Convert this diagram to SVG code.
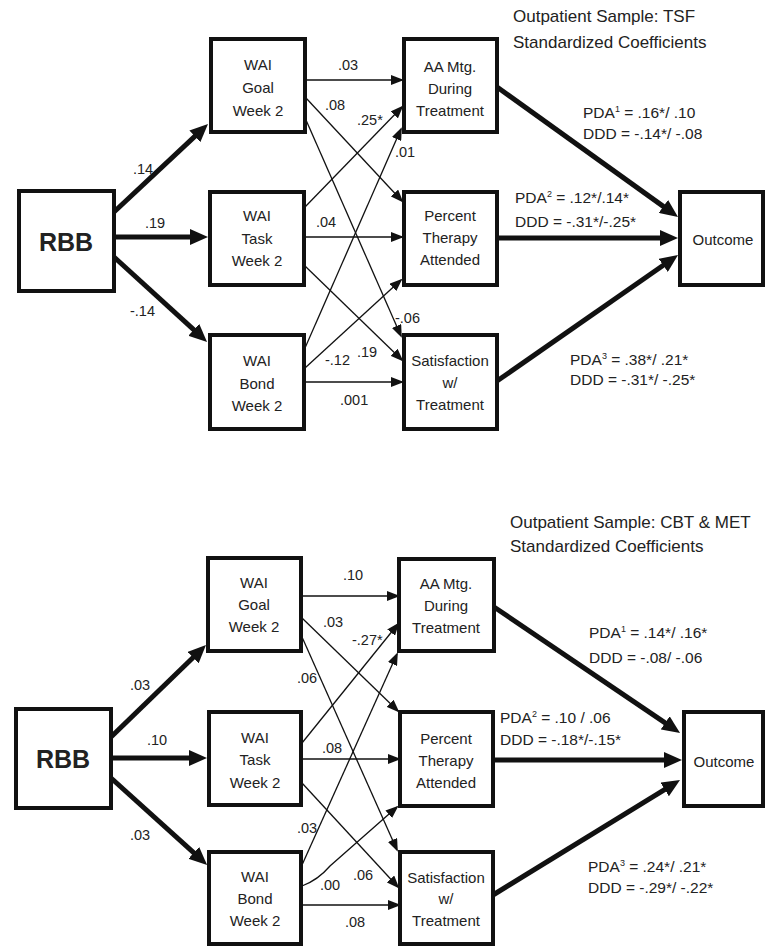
<svg xmlns="http://www.w3.org/2000/svg" width="765" height="947" viewBox="0 0 765 947">
<style>
.box{fill:#fff;stroke:#111;stroke-width:4}
.t{font-family:"Liberation Sans",Arial,sans-serif;fill:#222;}
.node{font-size:15px;text-anchor:middle}
.rbb{font-size:25px;font-weight:bold;text-anchor:middle}
.lab{font-size:14.5px}
.pda{font-size:15.5px}
.title{font-size:17px}
.thin{stroke:#111;stroke-width:1.3;fill:none;marker-end:url(#ah)}
.thick{stroke:#111;stroke-width:5;fill:none;marker-end:url(#ahb)}
</style>
<defs>
<marker id="ah" markerUnits="userSpaceOnUse" markerWidth="13" markerHeight="10" refX="11" refY="5" orient="auto"><path d="M0,0 L13,5 L0,10 z" fill="#111"/></marker>
<marker id="ahb" markerUnits="userSpaceOnUse" markerWidth="20" markerHeight="16" refX="8" refY="8" orient="auto"><path d="M0,0 L18,8 L0,16 z" fill="#111"/></marker>
</defs>
<rect width="765" height="947" fill="#fff"/>

<!-- ===== TOP PANEL ===== -->
<g id="connectors-top">
<line class="thick" x1="114" y1="212" x2="200.7" y2="130.9"/>
<line class="thick" x1="114" y1="237" x2="198" y2="237"/>
<line class="thick" x1="114" y1="257" x2="199.7" y2="335.2"/>
<line class="thick" x1="497" y1="87" x2="669.9" y2="211.1"/>
<line class="thick" x1="497" y1="238" x2="668" y2="238"/>
<line class="thick" x1="497" y1="381" x2="669.8" y2="260.8"/>
<line class="thin" x1="306" y1="80" x2="402" y2="80"/>
<line class="thin" x1="306" y1="98" x2="402" y2="201"/>
<line class="thin" x1="306" y1="120" x2="401" y2="336"/>
<line class="thin" x1="305" y1="207" x2="402" y2="107"/>
<line class="thin" x1="305" y1="237" x2="402" y2="237"/>
<line class="thin" x1="305" y1="266" x2="402" y2="360"/>
<line class="thin" x1="305" y1="348" x2="401" y2="129"/>
<line class="thin" x1="305" y1="368" x2="401" y2="280"/>
<line class="thin" x1="305" y1="382" x2="402" y2="382"/>
</g>

<g id="rbb-top"><rect class="box" x="19" y="191" width="95" height="100"/><text class="t rbb" x="66" y="251">RBB</text></g>
<g id="goal-top"><rect class="box" x="211" y="39" width="94" height="93"/><text class="t node" x="258" y="70">WAI</text><text class="t node" x="258" y="93">Goal</text><text class="t node" x="258" y="116">Week 2</text></g>
<g id="task-top"><rect class="box" x="210" y="192" width="94" height="93"/><text class="t node" x="257" y="221">WAI</text><text class="t node" x="257" y="244">Task</text><text class="t node" x="257" y="266">Week 2</text></g>
<g id="bond-top"><rect class="box" x="210" y="335" width="94" height="94"/><text class="t node" x="257" y="366">WAI</text><text class="t node" x="257" y="389">Bond</text><text class="t node" x="257" y="411">Week 2</text></g>
<g id="aa-top"><rect class="box" x="404" y="39" width="93" height="93"/><text class="t node" x="450" y="72">AA Mtg.</text><text class="t node" x="450" y="94">During</text><text class="t node" x="450" y="116">Treatment</text></g>
<g id="pct-top"><rect class="box" x="404" y="192" width="93" height="93"/><text class="t node" x="450" y="221">Percent</text><text class="t node" x="450" y="243">Therapy</text><text class="t node" x="450" y="265">Attended</text></g>
<g id="sat-top"><rect class="box" x="404" y="335" width="93" height="94"/><text class="t node" x="450" y="366">Satisfaction</text><text class="t node" x="450" y="388">w/</text><text class="t node" x="450" y="410">Treatment</text></g>
<g id="outcome-top"><rect class="box" x="680" y="192" width="83" height="93"/><text class="t node" x="723" y="245">Outcome</text></g>

<g id="labels-top">
<text class="t title" x="513" y="22">Outpatient Sample: TSF</text>
<text class="t title" x="513" y="48">Standardized Coefficients</text>
<text class="t lab" x="133" y="174">.14</text>
<text class="t lab" x="145" y="228">.19</text>
<text class="t lab" x="130" y="316">-.14</text>
<text class="t lab" x="338" y="70">.03</text>
<text class="t lab" x="325" y="110">.08</text>
<text class="t lab" x="357" y="125">.25*</text>
<text class="t lab" x="395" y="157">.01</text>
<text class="t lab" x="316" y="227">.04</text>
<text class="t lab" x="395" y="323">-.06</text>
<text class="t lab" x="325" y="365">-.12</text>
<text class="t lab" x="357" y="357">.19</text>
<text class="t lab" x="340" y="405">.001</text>
<text class="t pda" x="583" y="118">PDA<tspan font-size="9" dy="-6">1</tspan><tspan dy="6"> = .16*/ .10</tspan></text>
<text class="t pda" x="583" y="139">DDD = -.14*/ -.08</text>
<text class="t pda" x="515" y="203">PDA<tspan font-size="9" dy="-6">2</tspan><tspan dy="6"> = .12*/.14*</tspan></text>
<text class="t pda" x="515" y="227">DDD = -.31*/-.25*</text>
<text class="t pda" x="570" y="365">PDA<tspan font-size="9" dy="-6">3</tspan><tspan dy="6"> = .38*/ .21*</tspan></text>
<text class="t pda" x="570" y="385">DDD = -.31*/ -.25*</text>
</g>

<!-- ===== BOTTOM PANEL ===== -->
<g id="connectors-bottom">
<line class="thick" x1="111" y1="737" x2="198.8" y2="652"/>
<line class="thick" x1="111" y1="758" x2="197" y2="758"/>
<line class="thick" x1="111" y1="778" x2="199.7" y2="858.2"/>
<line class="thick" x1="494" y1="607" x2="671.8" y2="727.4"/>
<line class="thick" x1="493" y1="760" x2="672" y2="760"/>
<line class="thick" x1="493" y1="895" x2="671.5" y2="785.3"/>
<line class="thin" x1="302" y1="596" x2="398" y2="596"/>
<line class="thin" x1="302" y1="618" x2="398" y2="711"/>
<line class="thin" x1="302" y1="637" x2="397" y2="850"/>
<line class="thin" x1="302" y1="743" x2="398" y2="624"/>
<line class="thin" x1="302" y1="759" x2="399" y2="759"/>
<line class="thin" x1="302" y1="783" x2="398" y2="887"/>
<line class="thin" x1="302" y1="865" x2="397" y2="654"/>
<path class="thin" d="M302,886 Q318,880 330,866 L397,807"/>
<line class="thin" x1="302" y1="905" x2="399" y2="905"/>
</g>

<g id="rbb-bottom"><rect class="box" x="16" y="709" width="95" height="99"/><text class="t rbb" x="63" y="768">RBB</text></g>
<g id="goal-bottom"><rect class="box" x="208" y="558" width="93" height="93"/><text class="t node" x="254" y="588">WAI</text><text class="t node" x="254" y="610">Goal</text><text class="t node" x="254" y="632">Week 2</text></g>
<g id="task-bottom"><rect class="box" x="209" y="712" width="92" height="93"/><text class="t node" x="255" y="743">WAI</text><text class="t node" x="255" y="765">Task</text><text class="t node" x="255" y="788">Week 2</text></g>
<g id="bond-bottom"><rect class="box" x="209" y="852" width="92" height="92"/><text class="t node" x="255" y="882">WAI</text><text class="t node" x="255" y="904">Bond</text><text class="t node" x="255" y="926">Week 2</text></g>
<g id="aa-bottom"><rect class="box" x="399" y="559" width="95" height="92"/><text class="t node" x="446" y="589">AA Mtg.</text><text class="t node" x="446" y="611">During</text><text class="t node" x="446" y="633">Treatment</text></g>
<g id="pct-bottom"><rect class="box" x="400" y="712" width="93" height="94"/><text class="t node" x="446" y="744">Percent</text><text class="t node" x="446" y="766">Therapy</text><text class="t node" x="446" y="788">Attended</text></g>
<g id="sat-bottom"><rect class="box" x="400" y="852" width="93" height="92"/><text class="t node" x="446" y="883">Satisfaction</text><text class="t node" x="446" y="904">w/</text><text class="t node" x="446" y="926">Treatment</text></g>
<g id="outcome-bottom"><rect class="box" x="684" y="712" width="79" height="94"/><text class="t node" x="724" y="767">Outcome</text></g>

<g id="labels-bottom">
<text class="t title" x="510" y="528">Outpatient Sample: CBT &amp; MET</text>
<text class="t title" x="510" y="552">Standardized Coefficients</text>
<text class="t lab" x="130" y="690">.03</text>
<text class="t lab" x="147" y="745">.10</text>
<text class="t lab" x="130" y="840">.03</text>
<text class="t lab" x="343" y="580">.10</text>
<text class="t lab" x="323" y="627">.03</text>
<text class="t lab" x="352" y="645">-.27*</text>
<text class="t lab" x="297" y="683">.06</text>
<text class="t lab" x="322" y="753">.08</text>
<text class="t lab" x="297" y="833">.03</text>
<text class="t lab" x="320" y="890">.00</text>
<text class="t lab" x="353" y="880">.06</text>
<text class="t lab" x="345" y="927">.08</text>
<text class="t pda" x="589" y="638">PDA<tspan font-size="9" dy="-6">1</tspan><tspan dy="6"> = .14*/ .16*</tspan></text>
<text class="t pda" x="589" y="663">DDD = -.08/ -.06</text>
<text class="t pda" x="500" y="723">PDA<tspan font-size="9" dy="-6">2</tspan><tspan dy="6"> = .10 / .06</tspan></text>
<text class="t pda" x="500" y="745">DDD = -.18*/-.15*</text>
<text class="t pda" x="588" y="872">PDA<tspan font-size="9" dy="-6">3</tspan><tspan dy="6"> = .24*/ .21*</tspan></text>
<text class="t pda" x="588" y="893">DDD = -.29*/ -.22*</text>
</g>
</svg>
